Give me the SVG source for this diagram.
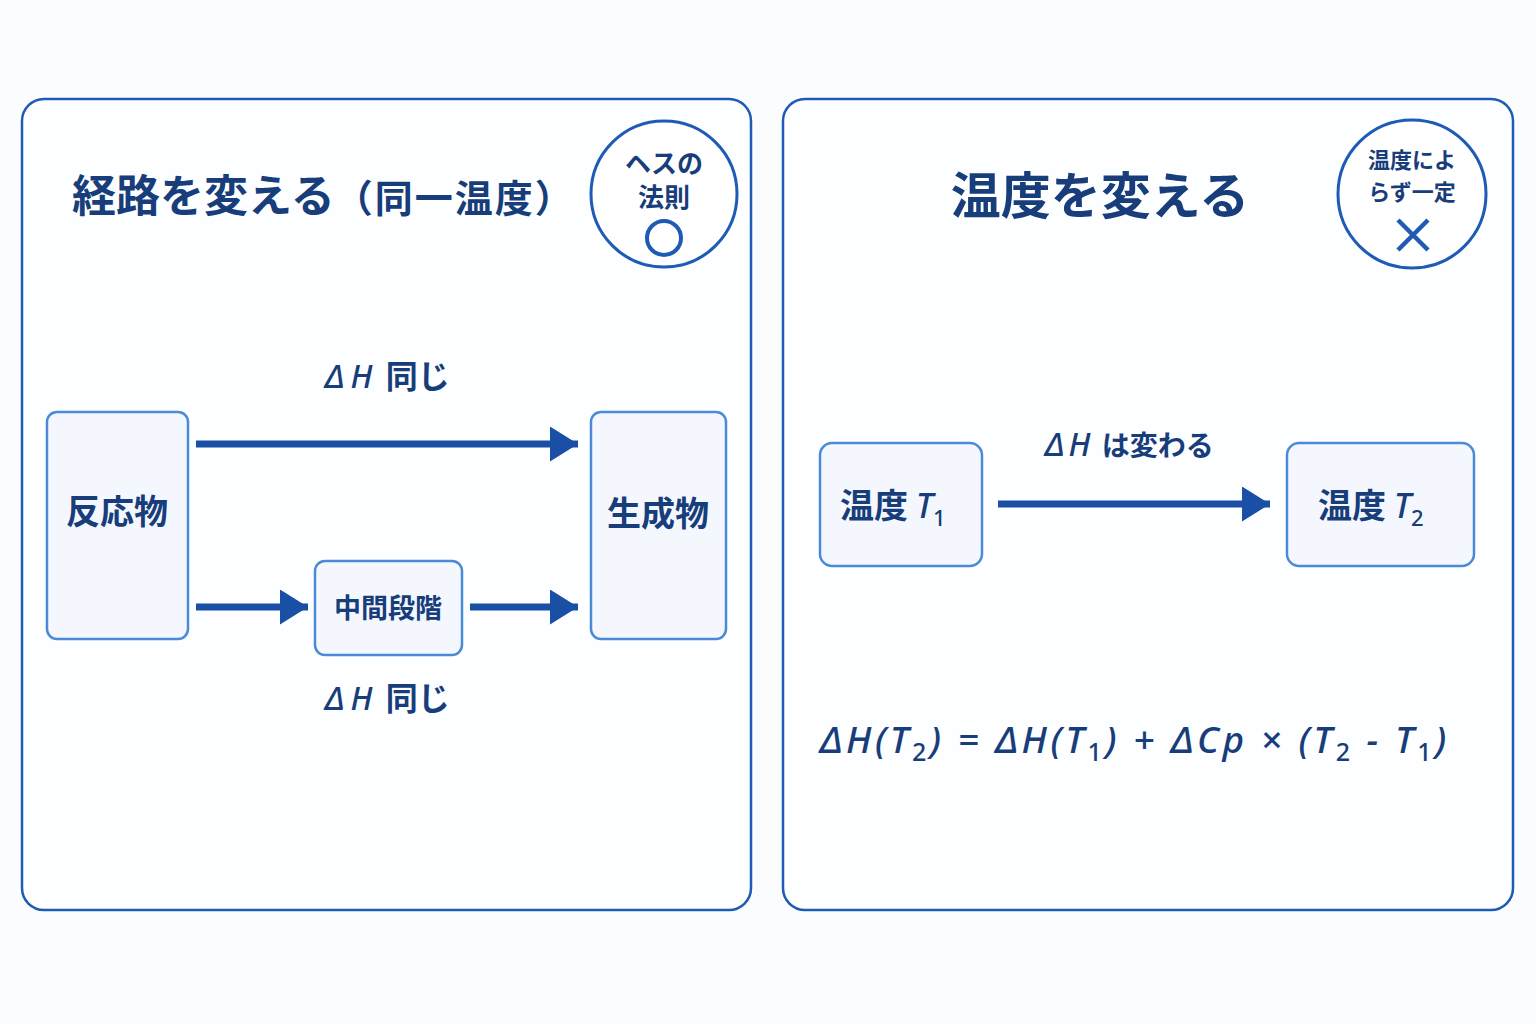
<svg xmlns="http://www.w3.org/2000/svg" width="1536" height="1024" viewBox="0 0 1536 1024">
<style>
.panel{fill:#fdfeff;stroke:#1d5bb5;stroke-width:2.5}
.box{fill:#f4f8fe;stroke:#4a8ad6;stroke-width:2.5}
.circ{fill:#fff;stroke:#1d5bb5;stroke-width:3}
text{font-family:"Noto Sans CJK JP","Noto Sans",sans-serif;fill:#173d7a;font-weight:700}
.it{font-style:italic;font-family:"Noto Sans",sans-serif;font-weight:500}
.conn{stroke:#1a4fa6;stroke-width:7;fill:none}
</style>
<defs><marker id="ah" markerWidth="4" markerHeight="5" refX="4" refY="2.5" orient="auto"><path d="M0,0 L4,2.5 L0,5 Z" fill="#1a4fa6"/></marker></defs>
<rect width="1536" height="1024" fill="#fbfcfe"/>
<rect class="panel" x="22" y="99" width="729" height="811" rx="22"/>
<rect class="panel" x="783" y="99" width="730" height="811" rx="22"/>
<text x="72" y="212" font-size="44">経路を変える<tspan font-size="38" letter-spacing="2">（同一温度）</tspan></text>
<text x="1100" y="214" font-size="50" text-anchor="middle">温度を変える</text>
<g id="hess"><circle class="circ" cx="664" cy="194" r="73"/>
<text x="664" y="173" font-size="26" text-anchor="middle">ヘスの</text>
<text x="664" y="207" font-size="26" text-anchor="middle">法則</text>
<circle cx="664" cy="238" r="17" fill="none" stroke="#1d5bb5" stroke-width="4"/></g>
<g id="temp"><circle class="circ" cx="1412" cy="194" r="74"/>
<text x="1412" y="168" font-size="22" text-anchor="middle">温度によ</text>
<text x="1412" y="200" font-size="22" text-anchor="middle">らず一定</text>
<path d="M1398,220 L1428,250 M1428,220 L1398,250" stroke="#1d5bb5" stroke-width="4.5"/></g>
<g id="reactant"><rect class="box" x="47" y="412" width="141" height="227" rx="10"/><text x="117" y="524" font-size="34" text-anchor="middle">反応物</text></g>
<g id="product"><rect class="box" x="591" y="412" width="135" height="227" rx="10"/><text x="658" y="526" font-size="34" text-anchor="middle">生成物</text></g>
<g id="inter"><rect class="box" x="315" y="561" width="147" height="94" rx="10"/><text x="388" y="618" font-size="27" text-anchor="middle">中間段階</text></g>
<g id="t1"><rect class="box" x="820" y="443" width="162" height="123" rx="12"/><text x="840" y="518" font-size="34">温度 <tspan class="it">T</tspan><tspan font-family="Noto Sans" font-weight="500" font-size="22" dy="8">1</tspan></text></g>
<g id="t2"><rect class="box" x="1287" y="443" width="187" height="123" rx="12"/><text x="1318" y="518" font-size="34">温度 <tspan class="it">T</tspan><tspan font-family="Noto Sans" font-weight="500" font-size="22" dy="8">2</tspan></text></g>
<g id="connectors">
<line class="conn" x1="196" y1="444" x2="578" y2="444" marker-end="url(#ah)"/>
<line class="conn" x1="196" y1="607" x2="308" y2="607" marker-end="url(#ah)"/>
<line class="conn" x1="470" y1="607" x2="578" y2="607" marker-end="url(#ah)"/>
<line class="conn" x1="998" y1="504" x2="1270" y2="504" marker-end="url(#ah)"/>
</g>
<text x="325" y="388" font-size="32"><tspan class="it" letter-spacing="6">ΔH</tspan>  同じ</text>
<text x="325" y="710" font-size="32"><tspan class="it" letter-spacing="6">ΔH</tspan>  同じ</text>
<text x="1045" y="456" font-size="32"><tspan class="it" letter-spacing="4">ΔH</tspan> <tspan font-size="28">は変わる</tspan></text>
<text x="820" y="753" font-size="37" class="it" font-weight="500" letter-spacing="3.5">ΔH(T<tspan font-style="normal" font-size="25" dy="8">2</tspan><tspan dy="-8">) = ΔH(T</tspan><tspan font-style="normal" font-size="25" dy="8">1</tspan><tspan dy="-8">) + ΔCp × (T</tspan><tspan font-style="normal" font-size="25" dy="8">2</tspan><tspan dy="-8"> − T</tspan><tspan font-style="normal" font-size="25" dy="8">1</tspan><tspan dy="-8">)</tspan></text>
</svg>
